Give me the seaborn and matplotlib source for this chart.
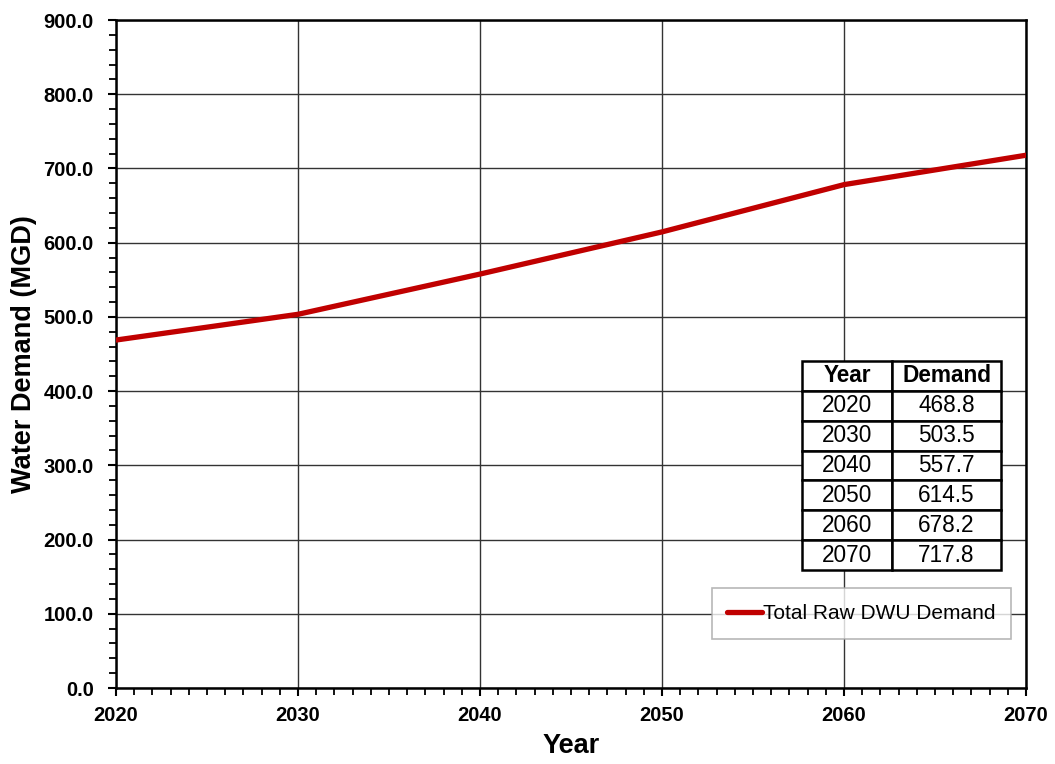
import matplotlib
matplotlib.use("Agg")
import matplotlib.pyplot as plt
from matplotlib.ticker import MultipleLocator, FormatStrFormatter
import seaborn as sns
import pandas as pd

# Projected total raw water demand (MGD)
years = [2020, 2030, 2040, 2050, 2060, 2070]
demand = [468.8, 503.5, 557.7, 614.5, 678.2, 717.8]
series_name = "Total Raw DWU Demand"
table_header = ["Year", "Demand"]

sns.set_theme(style="white")
plt.rcParams["font.family"] = ["Liberation Sans", "DejaVu Sans"]
plt.rcParams.update({"text.color": "black", "axes.labelcolor": "black",
                     "xtick.color": "black", "ytick.color": "black"})

df = pd.DataFrame({"Year": years, "Demand": demand, "Series": series_name})

fig = plt.figure(figsize=(10.55, 7.64), dpi=100)
ax = fig.add_axes([116 / 1055, 1 - 688 / 764, 910 / 1055, 668 / 764])

sns.lineplot(data=df, x="Year", y="Demand", hue="Series",
             palette=["#C00000"], linewidth=3.8, ax=ax, zorder=3)

ax.set_xlim(2020, 2070)
ax.set_ylim(0, 900)
ax.xaxis.set_major_locator(MultipleLocator(10))
ax.xaxis.set_minor_locator(MultipleLocator(1))
ax.yaxis.set_major_locator(MultipleLocator(100))
ax.yaxis.set_minor_locator(MultipleLocator(20))
ax.yaxis.set_major_formatter(FormatStrFormatter("%.1f"))
ax.xaxis.set_major_formatter(FormatStrFormatter("%d"))

ax.grid(True, which="major", color="#333333", linewidth=1.0, zorder=0)
ax.set_axisbelow(True)
for s in ax.spines.values():
    s.set_visible(True)
    s.set_color("black")
    s.set_linewidth(1.8)

ax.tick_params(axis="both", which="major", direction="out", length=6, width=1.5,
               color="black", labelcolor="black", labelsize=14.5)
ax.tick_params(axis="both", which="minor", direction="out", length=5, width=1.3,
               color="black")
ax.tick_params(axis="x", which="both", bottom=True, top=False)
ax.tick_params(axis="y", which="both", left=True, right=False)
ax.tick_params(axis="y", which="major", pad=10)
ax.tick_params(axis="x", which="major", pad=7)
for lbl in ax.get_xticklabels() + ax.get_yticklabels():
    lbl.set_fontweight("bold")

ax.set_xlabel("Year", fontsize=19.5, fontweight="bold", labelpad=6, color="black")
ax.set_ylabel("Water Demand (MGD)", fontsize=19.5, fontweight="bold", labelpad=5,
              color="black")

# Summary table of the projected values
cell_text = [[str(y), f"{d:.1f}"] for y, d in zip(years, demand)]
tbl = ax.table(cellText=cell_text, colLabels=table_header,
               cellLoc="center", colWidths=[90, 109],
               bbox=[(802 - 116) / 910, (688 - 570) / 668,
                     199 / 910, 209 / 668],
               zorder=5)
tbl.auto_set_font_size(False)
for (r, c), cell in tbl.get_celld().items():
    cell.set_edgecolor("black")
    cell.set_linewidth(1.8)
    cell.set_facecolor("white")
    cell.get_text().set_fontsize(16.3)
    cell.get_text().set_color("black")
    if r == 0:
        cell.get_text().set_fontweight("bold")

leg = ax.legend(loc="center", bbox_to_anchor=((861.5 - 116) / 910, (688 - 613.5) / 668),
                fontsize=15, frameon=True, fancybox=False, handlelength=1.65,
                handletextpad=0.08, borderpad=0.75, borderaxespad=0)
leg.get_frame().set_edgecolor("#a6a6a6")
leg.get_frame().set_linewidth(1.2)
for t in leg.get_texts():
    t.set_color("black")
leg.set_zorder(6)

fig.savefig("out.png", dpi=100)
